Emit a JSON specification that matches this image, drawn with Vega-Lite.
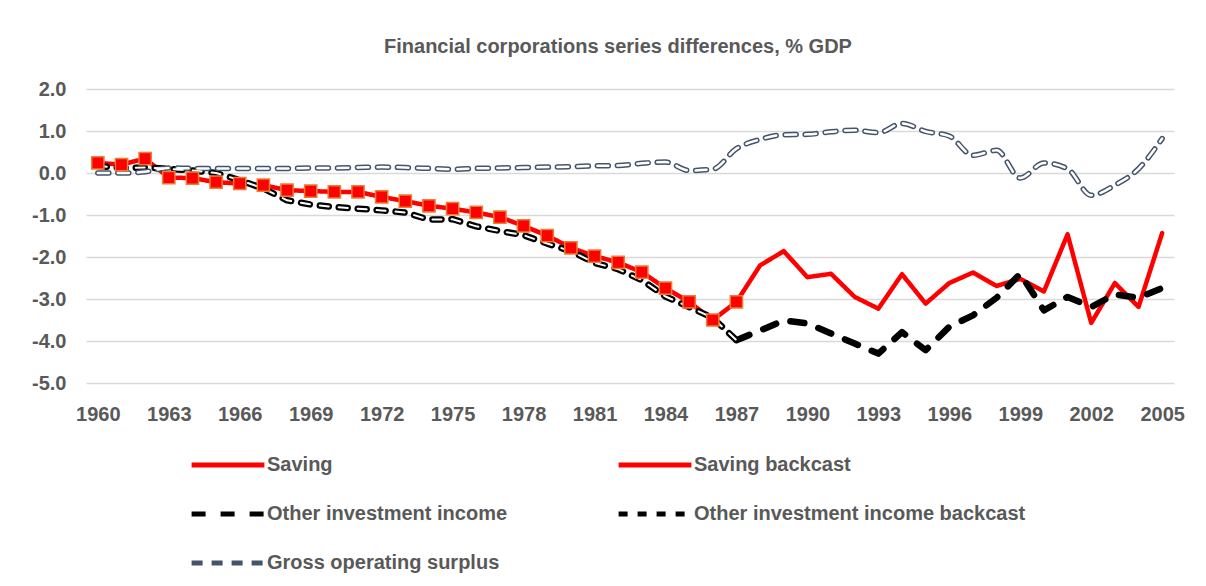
{
  "$schema": "https://vega.github.io/schema/vega-lite/v6.json",
  "autosize": {"type": "none"},
  "width": 1088,
  "height": 294,
  "padding": {"left": 86, "top": 89, "right": 32, "bottom": 203},
  "background": "white",
  "title": {
    "text": "Financial corporations series differences, % GDP",
    "font": "Liberation Sans",
    "fontSize": 20,
    "fontWeight": "bold",
    "color": "#595959",
    "offset": 22,
    "dx": -12
  },
  "config": {
    "view": {"stroke": null},
    "axis": {"labelFont": "Liberation Sans", "labelFontWeight": "bold", "labelColor": "#595959", "labelFontSize": 20}
  },
  "data": {
    "values": [
      {"year": 1960, "Saving backcast": 0.24, "Other investment income backcast": 0.17, "Gross operating surplus": 0.0},
      {"year": 1961, "Saving backcast": 0.2, "Other investment income backcast": 0.12, "Gross operating surplus": 0.0},
      {"year": 1962, "Saving backcast": 0.34, "Other investment income backcast": 0.13, "Gross operating surplus": 0.03},
      {"year": 1963, "Saving backcast": -0.11, "Other investment income backcast": 0.1, "Gross operating surplus": 0.12},
      {"year": 1964, "Saving backcast": -0.12, "Other investment income backcast": 0.06, "Gross operating surplus": 0.11},
      {"year": 1965, "Saving backcast": -0.22, "Other investment income backcast": 0.0, "Gross operating surplus": 0.11},
      {"year": 1966, "Saving backcast": -0.25, "Other investment income backcast": -0.17, "Gross operating surplus": 0.11},
      {"year": 1967, "Saving backcast": -0.29, "Other investment income backcast": -0.37, "Gross operating surplus": 0.11},
      {"year": 1968, "Saving backcast": -0.41, "Other investment income backcast": -0.65, "Gross operating surplus": 0.11},
      {"year": 1969, "Saving backcast": -0.43, "Other investment income backcast": -0.75, "Gross operating surplus": 0.12},
      {"year": 1970, "Saving backcast": -0.45, "Other investment income backcast": -0.81, "Gross operating surplus": 0.12},
      {"year": 1971, "Saving backcast": -0.45, "Other investment income backcast": -0.85, "Gross operating surplus": 0.13},
      {"year": 1972, "Saving backcast": -0.57, "Other investment income backcast": -0.89, "Gross operating surplus": 0.14},
      {"year": 1973, "Saving backcast": -0.67, "Other investment income backcast": -0.94, "Gross operating surplus": 0.13},
      {"year": 1974, "Saving backcast": -0.78, "Other investment income backcast": -1.11, "Gross operating surplus": 0.11},
      {"year": 1975, "Saving backcast": -0.85, "Other investment income backcast": -1.1, "Gross operating surplus": 0.09},
      {"year": 1976, "Saving backcast": -0.94, "Other investment income backcast": -1.27, "Gross operating surplus": 0.11},
      {"year": 1977, "Saving backcast": -1.05, "Other investment income backcast": -1.38, "Gross operating surplus": 0.12},
      {"year": 1978, "Saving backcast": -1.26, "Other investment income backcast": -1.48, "Gross operating surplus": 0.13},
      {"year": 1979, "Saving backcast": -1.49, "Other investment income backcast": -1.68, "Gross operating surplus": 0.14},
      {"year": 1980, "Saving backcast": -1.78, "Other investment income backcast": -1.86, "Gross operating surplus": 0.15},
      {"year": 1981, "Saving backcast": -1.98, "Other investment income backcast": -2.14, "Gross operating surplus": 0.17},
      {"year": 1982, "Saving backcast": -2.13, "Other investment income backcast": -2.29, "Gross operating surplus": 0.18},
      {"year": 1983, "Saving backcast": -2.36, "Other investment income backcast": -2.55, "Gross operating surplus": 0.23},
      {"year": 1984, "Saving backcast": -2.74, "Other investment income backcast": -2.94, "Gross operating surplus": 0.26},
      {"year": 1985, "Saving backcast": -3.07, "Other investment income backcast": -3.19, "Gross operating surplus": 0.06},
      {"year": 1986, "Saving backcast": -3.5, "Other investment income backcast": -3.45, "Gross operating surplus": 0.09},
      {"year": 1987, "Saving": -3.07, "Saving backcast": -3.07, "Other investment income": -3.98, "Other investment income backcast": -3.98, "Gross operating surplus": 0.58},
      {"year": 1988, "Saving": -2.2, "Other investment income": -3.75, "Gross operating surplus": 0.8},
      {"year": 1989, "Saving": -1.86, "Other investment income": -3.51, "Gross operating surplus": 0.91},
      {"year": 1990, "Saving": -2.48, "Other investment income": -3.58, "Gross operating surplus": 0.92},
      {"year": 1991, "Saving": -2.4, "Other investment income": -3.82, "Gross operating surplus": 0.98},
      {"year": 1992, "Saving": -2.95, "Other investment income": -4.06, "Gross operating surplus": 1.02},
      {"year": 1993, "Saving": -3.23, "Other investment income": -4.3, "Gross operating surplus": 0.96},
      {"year": 1994, "Saving": -2.41, "Other investment income": -3.79, "Gross operating surplus": 1.18},
      {"year": 1995, "Saving": -3.11, "Other investment income": -4.22, "Gross operating surplus": 0.99},
      {"year": 1996, "Saving": -2.62, "Other investment income": -3.66, "Gross operating surplus": 0.88},
      {"year": 1997, "Saving": -2.37, "Other investment income": -3.39, "Gross operating surplus": 0.42},
      {"year": 1998, "Saving": -2.69, "Other investment income": -2.97, "Gross operating surplus": 0.54},
      {"year": 1999, "Saving": -2.52, "Other investment income": -2.4, "Gross operating surplus": -0.12},
      {"year": 2000, "Saving": -2.82, "Other investment income": -3.27, "Gross operating surplus": 0.24},
      {"year": 2001, "Saving": -1.46, "Other investment income": -2.95, "Gross operating surplus": 0.1},
      {"year": 2002, "Saving": -3.57, "Other investment income": -3.19, "Gross operating surplus": -0.53},
      {"year": 2003, "Saving": -2.62, "Other investment income": -2.89, "Gross operating surplus": -0.29},
      {"year": 2004, "Saving": -3.19, "Other investment income": -2.97, "Gross operating surplus": 0.1},
      {"year": 2005, "Saving": -1.43, "Other investment income": -2.74, "Gross operating surplus": 0.82}
    ]
  },
  "transform": [
    {"fold": ["Saving", "Saving backcast", "Other investment income", "Other investment income backcast", "Gross operating surplus"], "as": ["series", "value"]},
    {"filter": "isValid(datum.value)"}
  ],
  "encoding": {
    "x": {
      "field": "year", "type": "quantitative",
      "scale": {"domain": [1959.5, 2005.5], "nice": false, "zero": false},
      "axis": {"title": null, "values": [1960, 1963, 1966, 1969, 1972, 1975, 1978, 1981, 1984, 1987, 1990, 1993, 1996, 1999, 2002, 2005], "format": "d", "grid": false, "ticks": false, "domain": false, "labelPadding": 21, "labelFlush": false}
    },
    "y": {
      "field": "value", "type": "quantitative",
      "scale": {"domain": [-5, 2], "nice": false, "zero": false},
      "axis": {"title": null, "values": [-5, -4, -3, -2, -1, 0, 1, 2], "labelExpr": "replace(format(datum.value, '.1f'), '\u2212', '-')", "grid": true, "gridColor": "#D9D9D9", "gridWidth": 1.3, "ticks": false, "domain": false, "labelPadding": 20}
    }
  },
  "layer": [
    {
      "transform": [{"filter": "datum.series == 'Saving' || datum.series == 'Saving backcast'"}],
      "mark": {"type": "line", "strokeWidth": 4.5, "strokeJoin": "round", "strokeCap": "round"},
      "encoding": {
        "color": {"field": "series", "type": "nominal",
          "scale": {"domain": ["Saving", "Other investment income", "Gross operating surplus", "Saving backcast", "Other investment income backcast"], "range": ["#FF0000", "#000000", "#44546A", "#FF0000", "#000000"]},
          "legend": {"orient": "none", "legendX": 103, "legendY": 337, "columns": 2, "title": null, "symbolType": "stroke", "symbolSize": 5300, "symbolStrokeWidth": 5, "labelFont": "Liberation Sans", "labelFontWeight": "bold", "labelFontSize": 20, "labelColor": "#595959", "labelOffset": 0, "labelLimit": 500, "columnPadding": 100, "rowPadding": -8, "padding": 0}
        },
        "strokeDash": {"field": "series", "type": "nominal",
          "scale": {"domain": ["Saving", "Other investment income", "Gross operating surplus", "Saving backcast", "Other investment income backcast"], "range": [[1, 0], [14, 15], [11, 9], [1, 0], [9, 10]]},
          "legend": {"orient": "none", "legendX": 103, "legendY": 337, "columns": 2, "title": null, "symbolType": "stroke", "symbolSize": 5300, "symbolStrokeWidth": 5, "labelFont": "Liberation Sans", "labelFontWeight": "bold", "labelFontSize": 20, "labelColor": "#595959", "labelOffset": 0, "labelLimit": 500, "columnPadding": 100, "rowPadding": -8, "padding": 0}
        }
      }
    },
    {
      "transform": [{"filter": "datum.series == 'Other investment income' || datum.series == 'Other investment income backcast'"}],
      "mark": {"type": "line", "strokeWidth": 6.5, "strokeCap": "round", "strokeJoin": "round"},
      "encoding": {
        "color": {"field": "series", "type": "nominal"},
        "strokeDash": {"field": "series", "type": "nominal"}
      }
    },
    {
      "transform": [{"filter": "datum.series == 'Gross operating surplus'"}],
      "mark": {"type": "line", "strokeWidth": 5.5, "strokeCap": "round", "strokeJoin": "round", "interpolate": "monotone"},
      "encoding": {
        "color": {"field": "series", "type": "nominal"},
        "strokeDash": {"field": "series", "type": "nominal"}
      }
    },
    {
      "transform": [{"filter": "datum.series == 'Other investment income backcast'"}],
      "mark": {"type": "line", "strokeWidth": 2, "strokeCap": "round", "strokeJoin": "round", "color": "#FFFFFF", "strokeDash": [9, 10]},
      "encoding": {}
    },
    {
      "transform": [{"filter": "datum.series == 'Gross operating surplus'"}],
      "mark": {"type": "line", "strokeWidth": 2.5, "strokeCap": "round", "strokeJoin": "round", "color": "#FFFFFF", "strokeDash": [11, 9], "interpolate": "monotone"},
      "encoding": {}
    },
    {
      "transform": [{"filter": "datum.series == 'Saving backcast'"}],
      "mark": {"type": "point", "shape": "square", "filled": true, "size": 150, "fill": "#FF0000", "stroke": "#ED7D31", "strokeWidth": 1.5, "opacity": 1},
      "encoding": {}
    }
  ]
}
